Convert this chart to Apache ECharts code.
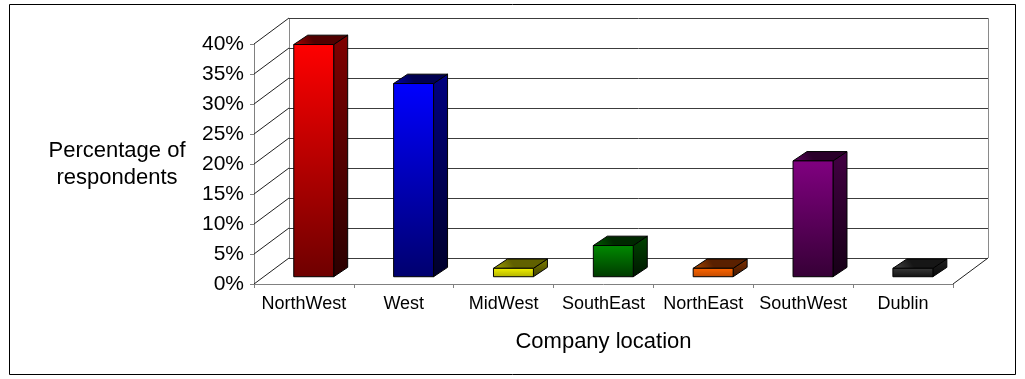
<!DOCTYPE html>
<html>
<head>
<meta charset="utf-8">
<script src="https://cdn.jsdelivr.net/npm/echarts@6/dist/echarts.min.js"></script>
<style>
html,body{margin:0;padding:0;background:#fff;}
#chart{width:1025px;height:379px;}
</style>
</head>
<body>
<div id="chart"></div>
<script>
// ---- data ----
const categories = ['NorthWest', 'West', 'MidWest', 'SouthEast', 'NorthEast', 'SouthWest', 'Dublin'];
const percentages = [38.7, 32.2, 1.4, 5.2, 1.4, 19.3, 1.4];
const yTicks = [0, 5, 10, 15, 20, 25, 30, 35, 40];
const xTitle = 'Company location';
const yTitle = 'Percentage of\nrespondents';

// ---- styles (not data) ----
const barStyles = [
  {front: ['#ff0000', '#6e0000'], side: ['#800000', '#2a0000'], top: ['#b00000', '#500000']},
  {front: ['#0000ff', '#00006e'], side: ['#000080', '#00002a'], top: ['#0000b0', '#000050']},
  {front: ['#f2f200', '#b0b000'], side: ['#808000', '#404000'], top: ['#a8a800', '#606000']},
  {front: ['#008a00', '#003a00'], side: ['#004400', '#001600'], top: ['#006000', '#002800']},
  {front: ['#ff6600', '#c04a00'], side: ['#803000', '#401600'], top: ['#b04a00', '#5a2000']},
  {front: ['#800080', '#360036'], side: ['#420042', '#160016'], top: ['#600060', '#2a002a']},
  {front: ['#3a3a3a', '#121212'], side: ['#222222', '#080808'], top: ['#4a4a4a', '#161616']}
];
const DX = 35, DY = -26;          // depth of the 3D walls
const BAR_OFF = 0.28;             // bar front face position inside depth
const BAR_DEPTH = 0.4;            // bar depth as fraction of wall depth
const FONT = '"Liberation Sans", Arial, sans-serif';

function grad(c) {
  return {type: 'linear', x: 0, y: 0, x2: 0, y2: 1,
    colorStops: [{offset: 0, color: c[0]}, {offset: 1, color: c[1]}]};
}
function crisp(v) { return Math.round(v) + 0.5; }

const chart = echarts.init(document.getElementById('chart'), null, {renderer: 'canvas'});

const wallData = yTicks.map(t => [0, t]);
const yMax = yTicks[yTicks.length - 1];

function renderWall(params, api) {
  const cs = params.coordSys;
  const v = api.value(1);
  const y = api.coord([0, v])[1];
  const x0 = cs.x, x1 = cs.x + cs.width;
  const by = crisp(y + DY);
  const children = [
    {type: 'line', shape: {x1: x0 + DX, y1: by, x2: x1 + DX, y2: by},
      style: {stroke: '#3c3c3c', lineWidth: 1}},
    {type: 'line', shape: {x1: x0, y1: y, x2: x0 + DX, y2: y + DY},
      style: {stroke: '#202020', lineWidth: 1}}
  ];
  if (v === 0) {
    const yTop = api.coord([0, yMax])[1];
    children.push(
      {type: 'line', shape: {x1: x1, y1: y, x2: x1 + DX, y2: y + DY},
        style: {stroke: '#202020', lineWidth: 1}},
      {type: 'line', shape: {x1: crisp(x0 + DX), y1: y + DY, x2: crisp(x0 + DX), y2: yTop + DY},
        style: {stroke: '#8a8a8a', lineWidth: 1}},
      {type: 'line', shape: {x1: crisp(x1 + DX), y1: y + DY, x2: crisp(x1 + DX), y2: yTop + DY},
        style: {stroke: '#8a8a8a', lineWidth: 1}}
    );
  }
  return {type: 'group', children: children};
}

function renderBar(params, api) {
  const idx = api.value(0);
  const val = api.value(1);
  const c0 = api.coord([idx, 0]);
  const c1 = api.coord([idx, val]);
  const catW = api.size([1, 0])[0];
  const bw = catW * 0.40;
  const ox = DX * BAR_OFF, oy = DY * BAR_OFF;
  const bdx = DX * BAR_DEPTH, bdy = DY * BAR_DEPTH * 0.9;
  const xl = c0[0] - bw / 2 + ox, xr = xl + bw;
  const yb = c0[1] + oy, yt = c1[1] + oy;
  const st = barStyles[params.dataIndex];
  const stroke = {stroke: '#000', lineWidth: 1, lineJoin: 'round'};
  return {type: 'group', children: [
    {type: 'polygon', shape: {points: [[xr, yt], [xr + bdx, yt + bdy], [xr + bdx, yb + bdy], [xr, yb]]},
      style: Object.assign({fill: grad(st.side)}, stroke)},
    {type: 'polygon', shape: {points: [[xl, yt], [xr, yt], [xr + bdx, yt + bdy], [xl + bdx, yt + bdy]]},
      style: Object.assign({fill: {type: 'linear', x: 0, y: 1, x2: 0.3, y2: 0,
        colorStops: [{offset: 0, color: st.top[0]}, {offset: 1, color: st.top[1]}]}}, stroke)},
    {type: 'rect', shape: {x: xl, y: yt, width: bw, height: yb - yt},
      style: Object.assign({fill: grad(st.front)}, stroke)}
  ]};
}

const option = {
  animation: false,
  backgroundColor: '#ffffff',
  textStyle: {fontFamily: FONT},
  graphic: [{
    type: 'rect', shape: {x: 9.5, y: 4.5, width: 1006, height: 370},
    style: {fill: 'none', stroke: '#000', lineWidth: 1}, z: 0, silent: true
  }],
  grid: {left: 254, top: 44, width: 699, height: 240, containLabel: false},
  xAxis: {
    type: 'category',
    data: categories,
    boundaryGap: true,
    name: xTitle,
    nameLocation: 'middle',
    nameGap: 47,
    nameTextStyle: {fontSize: 22, color: '#000', fontFamily: FONT},
    axisLine: {lineStyle: {color: '#808080', width: 1}},
    axisTick: {show: true, alignWithLabel: false, length: 4, lineStyle: {color: '#808080'}},
    axisLabel: {fontSize: 18, color: '#000', margin: 11, fontFamily: FONT, interval: 0},
    splitLine: {show: false}
  },
  yAxis: {
    type: 'value',
    min: yTicks[0],
    max: yMax,
    interval: yTicks[1] - yTicks[0],
    name: yTitle,
    nameLocation: 'middle',
    nameRotate: 0,
    nameGap: 137,
    nameTextStyle: {fontSize: 22, color: '#000', align: 'center', lineHeight: 27, fontFamily: FONT, padding: [11, 0, 0, 0]},
    axisLine: {show: true, lineStyle: {color: '#808080', width: 1}},
    axisTick: {show: true, inside: false, length: 4, lineStyle: {color: '#808080'}},
    axisLabel: {fontSize: 21, color: '#000', margin: 10, fontFamily: FONT, formatter: '{value}%', padding: [5, 0, 0, 0]},
    splitLine: {show: false}
  },
  series: [
    {
      type: 'custom', name: 'walls', renderItem: renderWall,
      data: wallData, encode: {x: 0, y: 1}, z: 1, silent: true, clip: false
    },
    {
      type: 'custom', name: 'bars', renderItem: renderBar,
      data: percentages.map((v, i) => [i, v]), encode: {x: 0, y: 1}, z: 3, clip: false
    }
  ]
};
chart.setOption(option);
</script>
</body>
</html>
